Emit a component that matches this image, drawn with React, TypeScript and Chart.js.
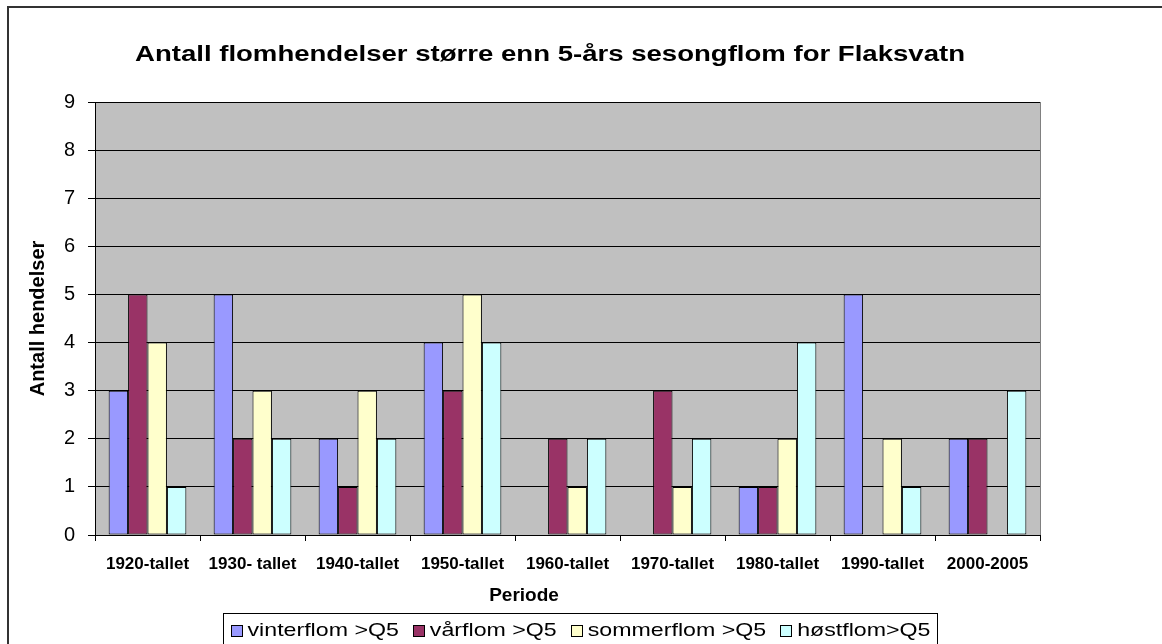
import React, { useEffect, useRef } from "react";
import { Chart, registerables } from "chart.js";

Chart.register(...registerables);

const categories = [
  "1920-tallet",
  "1930- tallet",
  "1940-tallet",
  "1950-tallet",
  "1960-tallet",
  "1970-tallet",
  "1980-tallet",
  "1990-tallet",
  "2000-2005",
];
const vinterflom = [3, 5, 2, 4, 0, 0, 1, 5, 2];
const varflom = [5, 2, 1, 3, 2, 3, 1, 0, 2];
const sommerflom = [4, 3, 3, 5, 1, 1, 2, 2, 0];
const hostflom = [1, 2, 2, 4, 2, 2, 4, 1, 3];
const seriesLabels = ["vinterflom >Q5", "vårflom >Q5", "sommerflom >Q5", "høstflom>Q5"];
const seriesColors = ["#9999FF", "#993366", "#FFFFCC", "#CCFFFF"];
const yMin = 0;
const yMax = 9;
const yStep = 1;
const chartTitle = "Antall flomhendelser større enn 5-års sesongflom for Flaksvatn";
const xTitle = "Periode";
const yTitle = "Antall hendelser";

const FONT = '"Liberation Sans", Arial, Helvetica, sans-serif';

const decorations = {
  id: "decorations",
  beforeDraw(chart: any) {
    const { ctx, chartArea } = chart;
    ctx.save();
    ctx.fillStyle = "#ffffff";
    ctx.fillRect(0, 0, chart.width, chart.height);
    // outer frame
    ctx.fillStyle = "#333333";
    ctx.fillRect(7, 6, chart.width, 2);
    ctx.fillRect(7, 6, 2, chart.height);
    // plot background
    ctx.fillStyle = "#C0C0C0";
    ctx.fillRect(chartArea.left, chartArea.top, chartArea.right - chartArea.left, chartArea.bottom - chartArea.top);
    ctx.restore();
  },
  afterDraw(chart: any) {
    const { ctx, chartArea } = chart;
    ctx.save();
    // right plot border
    ctx.strokeStyle = "#808080";
    ctx.lineWidth = 1;
    ctx.beginPath();
    ctx.moveTo(chartArea.right + 0.5, chartArea.top);
    ctx.lineTo(chartArea.right + 0.5, chartArea.bottom);
    ctx.stroke();

    // title (stretched horizontally like the original)
    ctx.fillStyle = "#000";
    ctx.font = `bold 22px ${FONT}`;
    ctx.textBaseline = "alphabetic";
    ctx.textAlign = "center";
    const tw = ctx.measureText(chartTitle).width;
    const sx = 830 / tw;
    ctx.save();
    ctx.translate(550, 61);
    ctx.scale(sx, 1);
    ctx.fillText(chartTitle, 0, 0);
    ctx.restore();

    // x axis title
    ctx.font = `bold 19px ${FONT}`;
    ctx.textAlign = "center";
    ctx.fillText(xTitle, 524, 601);

    // legend
    const boxL = 223.5, boxR = 937.5, boxT = 613.5;
    ctx.strokeStyle = "#000";
    ctx.lineWidth = 1;
    ctx.strokeRect(boxL, boxT, boxR - boxL, 60);
    ctx.font = `19px ${FONT}`;
    ctx.textAlign = "left";
    const marker = 11, gapMT = 6, gapItems = 14;
    const widths = seriesLabels.map((l) => ctx.measureText(l).width);
    const T = widths.reduce((a, b) => a + b, 0);
    const fixed = seriesLabels.length * (marker + gapMT) + (seriesLabels.length - 1) * gapItems;
    const available = boxR - boxL - 14;
    const lsx = Math.max(1, (available - fixed) / T);
    let x = boxL + 7;
    seriesLabels.forEach((label, i) => {
      ctx.fillStyle = seriesColors[i];
      ctx.fillRect(Math.round(x) + 0.5, 625.5, marker, marker);
      ctx.strokeStyle = "#000";
      ctx.strokeRect(Math.round(x) + 0.5, 625.5, marker, marker);
      x += marker + gapMT;
      ctx.fillStyle = "#000";
      ctx.save();
      ctx.translate(x, 636);
      ctx.scale(lsx, 1);
      ctx.fillText(label, 0, 0);
      ctx.restore();
      x += widths[i] * lsx + gapItems;
    });
    ctx.restore();
  },
};

export default function App() {
  const canvasRef = useRef<HTMLCanvasElement | null>(null);

  useEffect(() => {
    if (!canvasRef.current) return;
    Chart.defaults.font.family = FONT;
    const series = [vinterflom, varflom, sommerflom, hostflom];
    const chart = new Chart(canvasRef.current, {
      type: "bar",
      data: {
        labels: categories,
        datasets: series.map((data, i) => ({
          label: seriesLabels[i],
          data,
          backgroundColor: seriesColors[i],
          borderColor: "#000000",
          borderWidth: 1,
          borderSkipped: false,
          categoryPercentage: 0.74,
          barPercentage: 1.0,
        })),
      },
      options: {
        animation: false,
        responsive: true,
        maintainAspectRatio: false,
        layout: { padding: { left: 22, right: 122, top: 102, bottom: 49 } },
        plugins: {
          legend: { display: false },
          title: { display: false },
          tooltip: { enabled: false },
        },
        scales: {
          x: {
            afterFit(scale: any) {
              scale.height = 60;
            },
            grid: {
              display: true,
              drawOnChartArea: false,
              color: "#000",
              tickLength: 6,
              offset: true,
            },
            border: { color: "#000", width: 1 },
            ticks: {
              color: "#000",
              font: { size: 17, weight: "bold", family: FONT },
              padding: 13,
              maxRotation: 0,
              autoSkip: false,
            },
          },
          y: {
            min: yMin,
            max: yMax,
            afterFit(scale: any) {
              scale.width = 73;
            },
            grid: { color: "#000", tickLength: 7, lineWidth: 1 },
            border: { color: "#000", width: 1 },
            ticks: {
              stepSize: yStep,
              color: "#000",
              font: { size: 20, family: FONT },
              padding: 13,
            },
            title: {
              display: true,
              text: yTitle,
              color: "#000",
              font: { size: 20, weight: "bold", family: FONT },
              padding: { top: 4, bottom: 4 },
            },
          },
        },
      },
      plugins: [decorations],
    });
    return () => chart.destroy();
  }, []);

  return (
    <div style={{ position: "fixed", left: 0, top: 0, width: 1162, height: 644 }}>
      <canvas ref={canvasRef} />
    </div>
  );
}
